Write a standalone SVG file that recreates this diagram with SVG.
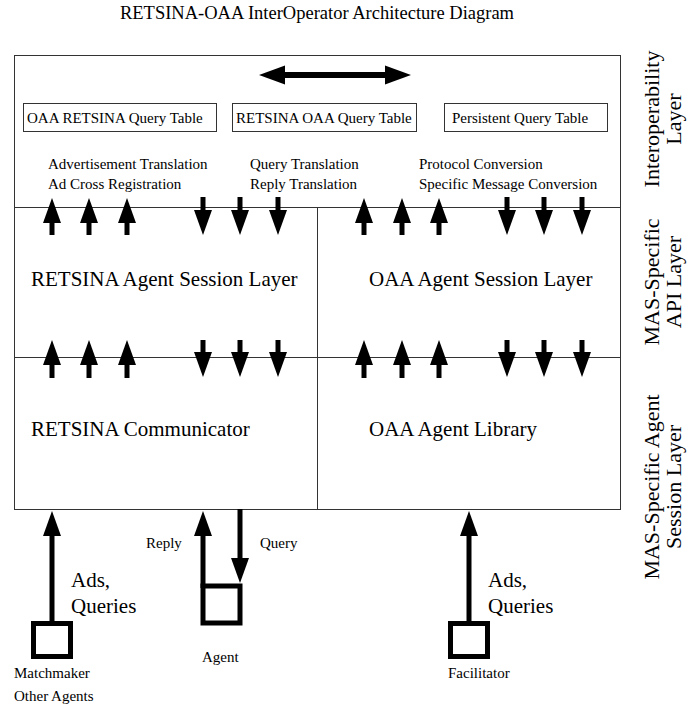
<svg xmlns="http://www.w3.org/2000/svg" width="690" height="704" viewBox="0 0 690 704">
<defs>
<style>
text{font-family:"Liberation Serif","Times New Roman",serif;fill:#000}
.t{font-size:18.5px}
.s{font-size:15px}
.b{font-size:21px}
.v{font-size:22px}
.frame{fill:none;stroke:#333;stroke-width:1}
.tbl{fill:#fff;stroke:#333;stroke-width:1}
.arr{fill:none;stroke:#000;stroke-width:5;marker-end:url(#ah)}
.arr2{fill:none;stroke:#000;stroke-width:6}
.sq{fill:#fff;stroke:#000;stroke-width:5}
.mid{text-anchor:middle}
</style>
<marker id="ah" markerUnits="userSpaceOnUse" markerWidth="30" markerHeight="24" refX="0" refY="0" viewBox="0 -12 30 24" orient="auto" overflow="visible">
<path d="M0,-9 L25,0 L0,9 Z" fill="#000"/>
</marker>
<marker id="ah2" markerUnits="userSpaceOnUse" markerWidth="30" markerHeight="24" refX="0" refY="0" viewBox="0 -12 30 24" orient="auto-start-reverse" overflow="visible">
<path d="M0,-9.5 L26,0 L0,9.5 Z" fill="#000"/>
</marker>
</defs>
<rect width="690" height="704" fill="#fff"/>
<text class="t mid" x="317" y="19">RETSINA-OAA InterOperator Architecture Diagram</text>

<g id="interoperability-layer">
<rect class="frame" x="14.5" y="55.5" width="606" height="152"/>
<text class="s" x="48" y="169">Advertisement Translation</text>
<text class="s" x="48" y="189">Ad Cross Registration</text>
<text class="s" x="250" y="169">Query Translation</text>
<text class="s" x="250" y="189">Reply Translation</text>
<text class="s" x="419" y="169">Protocol Conversion</text>
<text class="s" x="419" y="189">Specific Message Conversion</text>
</g>
<g id="oaa-retsina-query-table">
<rect class="tbl" x="23.5" y="103.5" width="193" height="28"/>
<text class="s" x="27" y="123">OAA RETSINA Query Table</text>
</g>
<g id="retsina-oaa-query-table">
<rect class="tbl" x="232.5" y="103.5" width="184" height="28"/>
<text class="s" x="236" y="123">RETSINA OAA Query Table</text>
</g>
<g id="persistent-query-table">
<rect class="tbl" x="444.5" y="103.5" width="163" height="28"/>
<text class="s" x="452" y="123">Persistent Query Table</text>
</g>
<g id="retsina-agent-session-layer">
<rect class="frame" x="14.5" y="207.5" width="303" height="150"/>
<text class="b" x="31" y="286">RETSINA Agent Session Layer</text>
</g>
<g id="oaa-agent-session-layer">
<rect class="frame" x="317.5" y="207.5" width="303" height="150"/>
<text class="b" x="369" y="286">OAA Agent Session Layer</text>
</g>
<g id="retsina-communicator">
<rect class="frame" x="14.5" y="357.5" width="303" height="152"/>
<text class="b" x="31" y="436">RETSINA Communicator</text>
</g>
<g id="oaa-agent-library">
<rect class="frame" x="317.5" y="357.5" width="303" height="152"/>
<text class="b" x="369" y="436">OAA Agent Library</text>
</g>

<g id="layer-labels">
<text class="v mid" transform="translate(659,119) rotate(-90)">Interoperability</text>
<text class="v mid" transform="translate(681,119) rotate(-90)">Layer</text>
<text class="v mid" transform="translate(659,282) rotate(-90)">MAS-Specific</text>
<text class="v mid" transform="translate(681,282) rotate(-90)">API Layer</text>
<text class="v mid" transform="translate(659,487) rotate(-90)">MAS-Specific Agent</text>
<text class="v mid" transform="translate(681,487) rotate(-90)">Session Layer</text>
</g>

<g id="matchmaker">
<rect class="sq" x="33.5" y="623.5" width="37" height="33"/>
<text class="s" x="14" y="678">Matchmaker</text>
<text class="s" x="14" y="701">Other Agents</text>
</g>
<g id="agent">
<rect class="sq" x="203" y="586" width="37" height="37"/>
<text class="s" x="202" y="662">Agent</text>
</g>
<g id="facilitator">
<rect class="sq" x="450.5" y="623.5" width="37" height="33"/>
<text class="s" x="448" y="678">Facilitator</text>
</g>

<g id="connectors">
<path class="arr2" d="M285,75 L385,75" marker-start="url(#ah2)" marker-end="url(#ah2)"/>
<path class="arr" d="M52,235V223"/>
<path class="arr" d="M89,235V223"/>
<path class="arr" d="M127,235V223"/>
<path class="arr" d="M203,197V210"/>
<path class="arr" d="M240,197V210"/>
<path class="arr" d="M278,197V210"/>
<path class="arr" d="M364,235V223"/>
<path class="arr" d="M402,235V223"/>
<path class="arr" d="M439,235V223"/>
<path class="arr" d="M507,197V210"/>
<path class="arr" d="M544,197V210"/>
<path class="arr" d="M582,197V210"/>
<path class="arr" d="M52,378V365"/>
<path class="arr" d="M89,378V365"/>
<path class="arr" d="M127,378V365"/>
<path class="arr" d="M203,340V352"/>
<path class="arr" d="M240,340V352"/>
<path class="arr" d="M278,340V352"/>
<path class="arr" d="M364,378V365"/>
<path class="arr" d="M402,378V365"/>
<path class="arr" d="M439,378V365"/>
<path class="arr" d="M507,340V352"/>
<path class="arr" d="M544,340V352"/>
<path class="arr" d="M582,340V352"/>
<path class="arr" d="M52,622V536"/>
<path class="arr" d="M203,588V536"/>
<path class="arr" d="M240,509V558"/>
<path class="arr" d="M469,622V536"/>
<text class="s" x="146" y="548">Reply</text>
<text class="s" x="260" y="548">Query</text>
<text class="b" x="71" y="587">Ads,</text>
<text class="b" x="71" y="613">Queries</text>
<text class="b" x="488" y="587">Ads,</text>
<text class="b" x="488" y="613">Queries</text>
</g>
</svg>
